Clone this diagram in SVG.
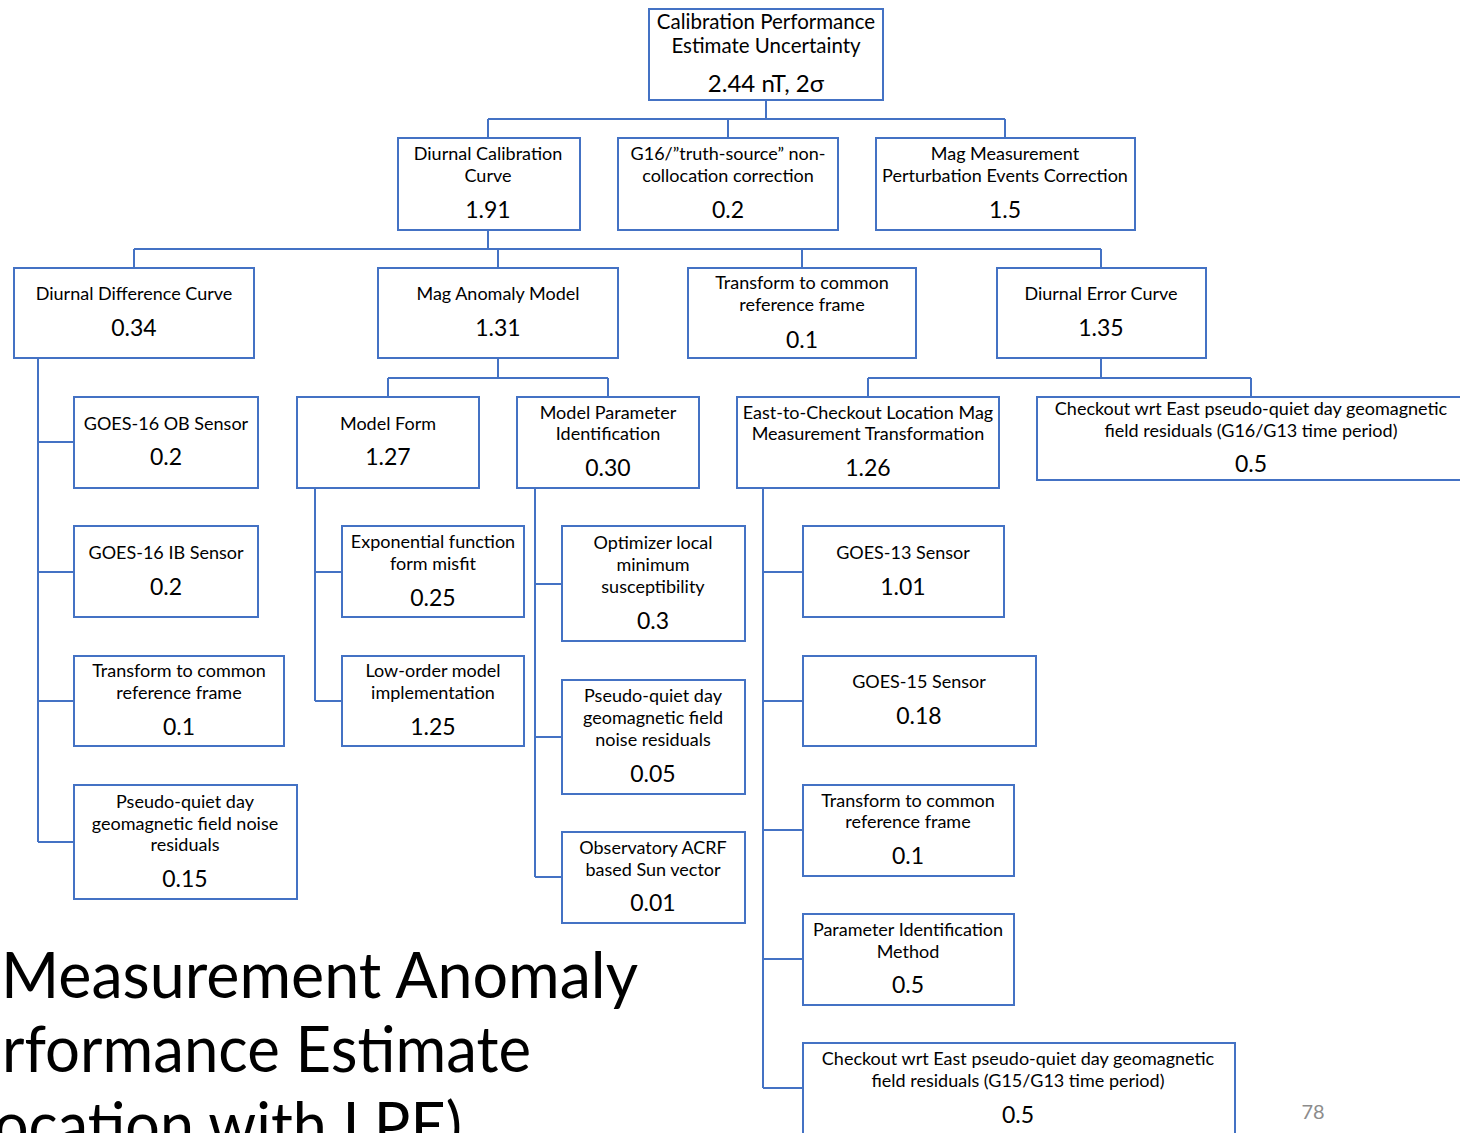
<svg xmlns="http://www.w3.org/2000/svg" width="1460" height="1133" viewBox="0 0 1460 1133">
<style>
.b{fill:#fff;stroke:#4472C4;stroke-width:2}
.c{fill:none;stroke:#4472C4;stroke-width:2}
text{font-family:Lato,"Open Sans","Liberation Sans",sans-serif;fill:#000;text-anchor:middle}
.t{font-size:18px}
.v{font-size:23px}
.r{font-size:20.5px}
.rv{font-size:24px}
.title{font-size:64px;text-anchor:start}
.pg{font-size:20px;fill:#8c8c8c}
</style>
<rect width="1460" height="1133" fill="#fff"/>
<g id="connectors">
<path class="c" d="M766 100V119M488 119H1005M488 119V138M728 119V138M1005 119V138"/>
<path class="c" d="M488 230V249M134 249H1101M134 249V268M498 249V268M802 249V268M1101 249V268"/>
<path class="c" d="M38 358V842M38 442H74M38 572H74M38 701H74M38 842H74"/>
<path class="c" d="M498 358V378M388 378H608M388 378V397M608 378V397"/>
<path class="c" d="M315 488V701M315 572H342M315 701H342"/>
<path class="c" d="M535 488V877M535 584H562M535 737H562M535 877H562"/>
<path class="c" d="M1101 358V378M868 378H1251M868 378V397M1251 378V397"/>
<path class="c" d="M763 488V1088M763 572H803M763 701H803M763 830H803M763 959H803M763 1088H803"/>
</g>
<g id="root"><rect class="b" x="649" y="9" width="234" height="91"/>
<text class="r" x="766" y="29">Calibration Performance</text><text class="r" x="766" y="53">Estimate Uncertainty</text><text class="rv" x="766" y="92">2.44 nT, 2σ</text></g>
<g id="diurnal-calibration"><rect class="b" x="398" y="138" width="182" height="92"/>
<text class="t" x="488" y="160">Diurnal Calibration</text><text class="t" x="488" y="182">Curve</text><text class="v" x="488" y="218">1.91</text></g>
<g id="g16-truth"><rect class="b" x="618" y="138" width="220" height="92"/>
<text class="t" x="728" y="160">G16/”truth-source” non-</text><text class="t" x="728" y="182">collocation correction</text><text class="v" x="728" y="218">0.2</text></g>
<g id="mag-perturbation"><rect class="b" x="876" y="138" width="259" height="92"/>
<text class="t" x="1005" y="160">Mag Measurement</text><text class="t" x="1005" y="182">Perturbation Events Correction</text><text class="v" x="1005" y="218">1.5</text></g>
<g id="diurnal-difference"><rect class="b" x="14" y="268" width="240" height="90"/>
<text class="t" x="134" y="300">Diurnal Difference Curve</text><text class="v" x="134" y="336">0.34</text></g>
<g id="mag-anomaly-model"><rect class="b" x="378" y="268" width="240" height="90"/>
<text class="t" x="498" y="300">Mag Anomaly Model</text><text class="v" x="498" y="336">1.31</text></g>
<g id="transform-l2"><rect class="b" x="688" y="268" width="228" height="90"/>
<text class="t" x="802" y="289">Transform to common</text><text class="t" x="802" y="311">reference frame</text><text class="v" x="802" y="348">0.1</text></g>
<g id="diurnal-error"><rect class="b" x="997" y="268" width="209" height="90"/>
<text class="t" x="1101" y="300">Diurnal Error Curve</text><text class="v" x="1101" y="336">1.35</text></g>
<g id="goes16-ob"><rect class="b" x="74" y="397" width="184" height="91"/>
<text class="t" x="166" y="430">GOES-16 OB Sensor</text><text class="v" x="166" y="465">0.2</text></g>
<g id="goes16-ib"><rect class="b" x="74" y="526" width="184" height="91"/>
<text class="t" x="166" y="559">GOES-16 IB Sensor</text><text class="v" x="166" y="595">0.2</text></g>
<g id="transform-left"><rect class="b" x="74" y="656" width="210" height="90"/>
<text class="t" x="179" y="677">Transform to common</text><text class="t" x="179" y="699">reference frame</text><text class="v" x="179" y="735">0.1</text></g>
<g id="pseudo-left"><rect class="b" x="74" y="785" width="223" height="114"/>
<text class="t" x="185" y="808">Pseudo-quiet day</text><text class="t" x="185" y="830">geomagnetic field noise</text><text class="t" x="185" y="851">residuals</text><text class="v" x="185" y="887">0.15</text></g>
<g id="model-form"><rect class="b" x="297" y="397" width="182" height="91"/>
<text class="t" x="388" y="430">Model Form</text><text class="v" x="388" y="465">1.27</text></g>
<g id="model-param"><rect class="b" x="517" y="397" width="182" height="91"/>
<text class="t" x="608" y="419">Model Parameter</text><text class="t" x="608" y="440">Identification</text><text class="v" x="608" y="476">0.30</text></g>
<g id="exponential"><rect class="b" x="342" y="526" width="182" height="91"/>
<text class="t" x="433" y="548">Exponential function</text><text class="t" x="433" y="570">form misfit</text><text class="v" x="433" y="606">0.25</text></g>
<g id="low-order"><rect class="b" x="342" y="656" width="182" height="90"/>
<text class="t" x="433" y="677">Low-order model</text><text class="t" x="433" y="699">implementation</text><text class="v" x="433" y="735">1.25</text></g>
<g id="optimizer"><rect class="b" x="562" y="526" width="183" height="115"/>
<text class="t" x="653" y="549">Optimizer local</text><text class="t" x="653" y="571">minimum</text><text class="t" x="653" y="593">susceptibility</text><text class="v" x="653" y="629">0.3</text></g>
<g id="pseudo-mid"><rect class="b" x="562" y="680" width="183" height="114"/>
<text class="t" x="653" y="702">Pseudo-quiet day</text><text class="t" x="653" y="724">geomagnetic field</text><text class="t" x="653" y="746">noise residuals</text><text class="v" x="653" y="782">0.05</text></g>
<g id="observatory"><rect class="b" x="562" y="832" width="183" height="91"/>
<text class="t" x="653" y="854">Observatory ACRF</text><text class="t" x="653" y="876">based Sun vector</text><text class="v" x="653" y="911">0.01</text></g>
<g id="east-to-checkout"><rect class="b" x="737" y="397" width="262" height="91"/>
<text class="t" x="868" y="419">East-to-Checkout Location Mag</text><text class="t" x="868" y="440">Measurement Transformation</text><text class="v" x="868" y="476">1.26</text></g>
<g id="checkout-g16"><rect class="b" x="1037" y="397" width="430" height="83"/>
<text class="t" x="1251" y="415">Checkout wrt East pseudo-quiet day geomagnetic</text><text class="t" x="1251" y="437">field residuals (G16/G13 time period)</text><text class="v" x="1251" y="472">0.5</text></g>
<g id="goes13"><rect class="b" x="803" y="526" width="201" height="91"/>
<text class="t" x="903" y="559">GOES-13 Sensor</text><text class="v" x="903" y="595">1.01</text></g>
<g id="goes15"><rect class="b" x="803" y="656" width="233" height="90"/>
<text class="t" x="919" y="688">GOES-15 Sensor</text><text class="v" x="919" y="724">0.18</text></g>
<g id="transform-right"><rect class="b" x="803" y="785" width="211" height="91"/>
<text class="t" x="908" y="807">Transform to common</text><text class="t" x="908" y="828">reference frame</text><text class="v" x="908" y="864">0.1</text></g>
<g id="param-ident"><rect class="b" x="803" y="914" width="211" height="91"/>
<text class="t" x="908" y="936">Parameter Identification</text><text class="t" x="908" y="958">Method</text><text class="v" x="908" y="993">0.5</text></g>
<g id="checkout-g15"><rect class="b" x="803" y="1043" width="432" height="100"/>
<text class="t" x="1018" y="1065">Checkout wrt East pseudo-quiet day geomagnetic</text><text class="t" x="1018" y="1087">field residuals (G15/G13 time period)</text><text class="v" x="1018" y="1123">0.5</text></g>
<text class="title" x="1" y="998" textLength="637" lengthAdjust="spacingAndGlyphs">Measurement Anomaly</text>
<text class="title" x="2" y="1072" textLength="529" lengthAdjust="spacingAndGlyphs">rformance Estimate</text>
<text class="title" x="-6" y="1148" textLength="468" lengthAdjust="spacingAndGlyphs">ocation with LPE)</text>
<text class="pg" x="1313" y="1119">78</text>
</svg>
